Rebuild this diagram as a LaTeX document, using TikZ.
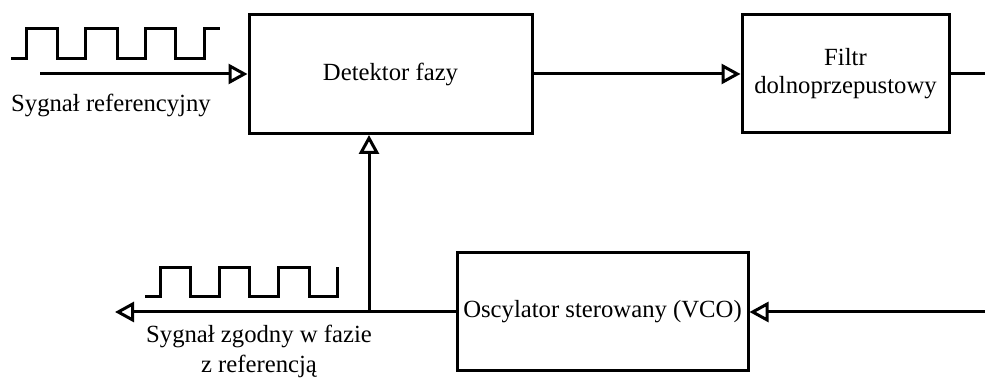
\documentclass[tikz,border=0pt]{standalone}
\usepackage{fontspec}
\setmainfont{Liberation Serif}
\usetikzlibrary{arrows.meta}

\begin{document}
\begin{tikzpicture}[x=0.5pt, y=-0.5pt, line width=1.5pt,
  every node/.style={font=\fontsize{12.35}{15}\selectfont},
  block/.style={draw, rectangle, inner sep=2pt, align=center},
  sig/.style={-{Triangle[open, length=9.5pt, width=10pt]}}]
  \useasboundingbox (0,0) rectangle (985,383);
  % blocks
  \node[block, minimum width=141.5pt, minimum height=59.5pt] (det) at (390.5,74) {Detektor fazy};
  \node[block, minimum width=103.5pt, minimum height=59pt] (filt) at (845.5,74) {Filtr\\[-1pt]dolnoprzepustowy};
  \node[block, minimum width=145.5pt, minimum height=59pt] (vco) at (602.5,312) {Oscylator sterowany (VCO)};
  % free ends of the lines
  \coordinate (refin) at (40,74);
  \coordinate (filtout) at (985,74);
  \coordinate (vcoin) at (985,312);
  \coordinate (outsig) at (115,312);
  \coordinate (split) at (369,312);
  % connections
  \draw[sig] (refin) -- (refin -| det.west);
  \draw[sig] (det.east) -- (filt.west);
  \draw (filt.east) -- (filtout);
  \draw[sig] (vcoin) -- (vco.east);
  \draw[sig] (vco.west) -- (outsig);
  \draw[sig] (split) -- (split |- det.south);
  % square waves
  \draw (11,59) -- (26,59) -- (26,29) -- (57,29) -- (57,59) -- (85,59) -- (85,29) -- (117,29) -- (117,59)
    -- (145,59) -- (145,29) -- (175,29) -- (175,59) -- (204,59) -- (204,29) -- (220,29);
  \draw (145,297) -- (160,297) -- (160,268) -- (190,268) -- (190,297) -- (219,297) -- (219,268) -- (249,268)
    -- (249,297) -- (278,297) -- (278,268) -- (309,268) -- (309,297) -- (337,297) -- (337,267);
  % labels
  \node[anchor=base] (reflbl) at (111,112) {Sygnał referencyjny};
  \node[anchor=north, align=center, inner sep=0pt] (outlbl) at (259,324) {Sygnał zgodny w fazie\\z referencją};
\end{tikzpicture}
\end{document}
